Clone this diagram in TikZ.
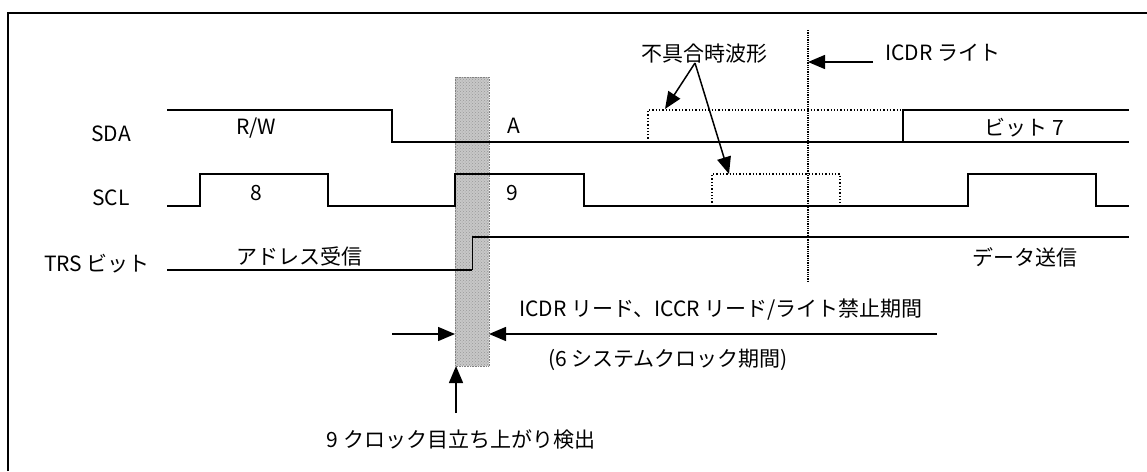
\documentclass[tikz,border=0pt]{standalone}
\usepackage{fontspec}
\setmainfont{Noto Sans CJK JP}
\usetikzlibrary{arrows.meta,patterns}
\begin{document}
\begin{tikzpicture}[x=1pt,y=-1pt,
  wave/.style={line width=1.5pt},
  glitch/.style={line width=1.3pt,dotted},
  lbl/.style={inner sep=0pt,font=\fontsize{21}{23}\selectfont},
  arr/.style={line width=1.5pt,-{Triangle[length=17pt,width=14pt]}},
  band/.style={fill=black!22,draw=black!50,densely dotted,line width=0.6pt}]
\useasboundingbox (0,0) rectangle (1147,471);
% frame (left and top edges visible)
\draw[line width=2pt] (8,471) -- (8,13) -- (1147,13);
% shaded detection band
\path[band] (455,77) rectangle (489,366);
\path[pattern=crosshatch dots,pattern color=black!40] (455,77) rectangle (489,366);
% marker line
\draw[line width=1.3pt,densely dotted] (808,30) coordinate (mtop) -- (808,282) coordinate (mbot);
% SDA
\draw[wave] (167,110) -- (392,110) -- (392,142) -- (1129,142);
\draw[wave] (903,142) -- (903,110) -- (1129,110);
\draw[glitch] (648,142) -- (648,110) -- (903,110);
% SCL
\draw[wave] (167,206) -- (200,206) -- (200,174) -- (328,174) -- (328,206) -- (455,206) -- (455,174) -- (584,174) -- (584,206) -- (968,206) -- (968,174) -- (1096,174) -- (1096,206) -- (1129,206);
\draw[glitch] (712,206) -- (712,174) -- (840,174) -- (840,206);
% TRS
\draw[wave] (167,270) -- (472,270);
\draw[line width=1pt] (472,270) -- (472,237);
\draw[wave] (472,237) -- (1129,237);
% labels
\node[lbl] (sda) at (111,134) {SDA};
\node[lbl] (scl) at (111,198) {SCL};
\node[lbl] (trs) at (97,264) {TRS ビット};
\node[lbl] (rw) at (256,128) {R/W};
\node[lbl] (ack) at (514,126) {A};
\node[lbl] (b7) at (1024,128) {ビット 7};
\node[lbl] (c8) at (256,193) {8};
\node[lbl] (c9) at (512,193) {9};
\node[lbl] (adr) at (299,256) {アドレス受信};
\node[lbl] (dat) at (1025,257) {データ送信};
\node[lbl] (bad) at (704,54) {不具合時波形};
\node[lbl,anchor=west] (wr) at (885,53) {ICDR ライト};
\node[lbl] (inh) at (721,310) {ICDR リード、ICCR リード/ライト禁止期間};
\node[lbl] (six) at (668,360) {(6 システムクロック期間)};
\node[lbl] (det) at (461,440) {9 クロック目立ち上がり検出};
% arrows
\coordinate (badsrc) at (695,63);
\coordinate (badsda) at (665,109);
\coordinate (badscl) at (729,174);
\draw[arr] (badsrc) -- (badsda);
\draw[arr] (badsrc) -- (badscl);
\coordinate (wrsrc) at (873,62);
\coordinate (wrdst) at (808,62);
\draw[arr] (wrsrc) -- (wrdst);
\coordinate (dl) at (392,334);
\coordinate (dla) at (455,334);
\coordinate (dr) at (937,334);
\coordinate (dra) at (489,334);
\draw[arr] (dl) -- (dla);
\draw[arr] (dr) -- (dra);
\coordinate (upsrc) at (456,413);
\coordinate (updst) at (456,366);
\draw[arr] (upsrc) -- (updst);
\end{tikzpicture}
\end{document}
